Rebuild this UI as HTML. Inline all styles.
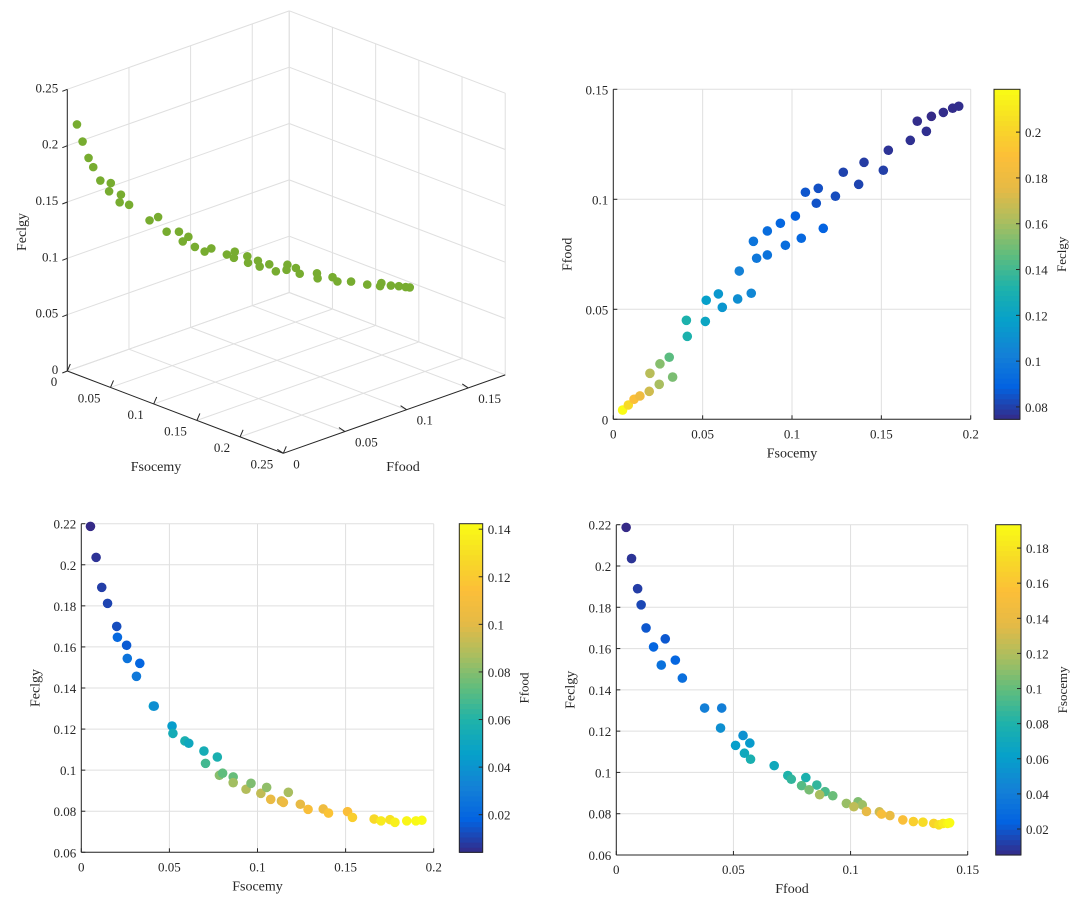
<!DOCTYPE html>
<html><head><meta charset="utf-8"><style>
html,body{margin:0;padding:0;background:#fff;}
svg{display:block;font-family:"Liberation Serif",serif;}
</style></head>
<body>
<svg id="fig" width="1082" height="907" viewBox="0 0 1082 907" xmlns="http://www.w3.org/2000/svg"></svg>
<script>
// Data: Fsocemy, Ffood, Feclgy for each solution
const socemy = [0.0052,0.0084,0.0116,0.0149,0.0201,0.0205,0.0257,0.0261,0.0313,0.0332,0.0409,0.0414,0.0515,0.0520,0.0588,0.0610,0.0696,0.0705,0.0772,0.0784,0.0802,0.0862,0.0862,0.0935,0.0963,0.1019,0.1052,0.1075,0.1136,0.1147,0.1175,0.1243,0.1287,0.1373,0.1403,0.1511,0.1539,0.1662,0.1701,0.1752,0.1780,0.1847,0.1899,0.1933];
const food   = [0.0042,0.0065,0.0091,0.0106,0.0127,0.0209,0.0159,0.0252,0.0282,0.0192,0.0450,0.0377,0.0445,0.0541,0.0570,0.0509,0.0547,0.0674,0.0573,0.0809,0.0732,0.0747,0.0856,0.0891,0.0791,0.0924,0.0823,0.1032,0.0982,0.1050,0.0868,0.1014,0.1123,0.1068,0.1168,0.1132,0.1223,0.1268,0.1355,0.1309,0.1377,0.1395,0.1414,0.1423];
const eclgy  = [0.2187,0.2036,0.1890,0.1812,0.1700,0.1647,0.1608,0.1544,0.1457,0.1520,0.1312,0.1312,0.1215,0.1179,0.1142,0.1131,0.1093,0.1033,0.1064,0.0975,0.0985,0.0967,0.0939,0.0907,0.0936,0.0887,0.0916,0.0858,0.0850,0.0843,0.0892,0.0834,0.0809,0.0811,0.0791,0.0798,0.0770,0.0762,0.0753,0.0759,0.0746,0.0753,0.0753,0.0756];
const ticksSocemy = [0,0.05,0.1,0.15,0.2];
const ticksFood2 = [0,0.05,0.1,0.15];
const ticksEclgy = [0.06,0.08,0.1,0.12,0.14,0.16,0.18,0.2,0.22];
const cbTicksEclgy = [0.08,0.1,0.12,0.14,0.16,0.18,0.2];
const cbTicksFood = [0.02,0.04,0.06,0.08,0.1,0.12,0.14];
const cbTicksSocemy = [0.02,0.04,0.06,0.08,0.1,0.12,0.14,0.16,0.18];
const ticks3dS = [0,0.05,0.1,0.15,0.2,0.25];
const ticks3dF = [0,0.05,0.1,0.15];
const ticks3dZ = [0,0.05,0.1,0.15,0.2,0.25];

const NS="http://www.w3.org/2000/svg";
const svg=document.getElementById('fig');
function mk(tag,attrs,parent){const e=document.createElementNS(NS,tag);for(const k in attrs)e.setAttribute(k,attrs[k]);(parent||svg).appendChild(e);return e;}
function fmt(v){return String(+v.toFixed(3)).replace(/^(-?)0\./,'$10.');}
const stops=[[53,42,135],[3,99,225],[20,129,214],[6,160,202],[30,178,170],[95,189,125],[170,190,95],[230,186,70],[252,191,56],[247,219,38],[249,251,21]];
function parula(t){t=Math.max(0,Math.min(1,t));const p=t*10,i=Math.min(9,Math.floor(p)),f=p-i;const a=stops[i],b=stops[i+1];return 'rgb('+a.map((v,k)=>Math.round(v+(b[k]-v)*f)).join(',')+')';}
const gridC='#dfdfdf';

function scatter2d(o){
  const g=mk('g',{});
  
  
  const X=v=>o.x0+(v-o.xmin)/(o.xmax-o.xmin)*(o.x1-o.x0);
  const Y=v=>o.y1-(v-o.ymin)/(o.ymax-o.ymin)*(o.y1-o.y0);
  o.xt.forEach(v=>{mk('line',{x1:X(v),x2:X(v),y1:o.y0,y2:o.y1,stroke:gridC,'stroke-width':1},g);});
  o.yt.forEach(v=>{mk('line',{x1:o.x0,x2:o.x1,y1:Y(v),y2:Y(v),stroke:gridC,'stroke-width':1},g);});
  mk('line',{x1:o.x0,x2:o.x1,y1:o.y1,y2:o.y1,stroke:'#262626'},g);
  mk('line',{x1:o.x0,x2:o.x0,y1:o.y0,y2:o.y1,stroke:'#262626'},g);
  o.xt.forEach(v=>{mk('line',{x1:X(v),x2:X(v),y1:o.y1,y2:o.y1-4,stroke:'#262626'},g);
    const t=mk('text',{x:X(v),y:o.y1+19,'text-anchor':'middle','font-size':13,fill:'#262626'},g);t.textContent=fmt(v);
    });
  o.yt.forEach(v=>{mk('line',{x1:o.x0,x2:o.x0+4,y1:Y(v),y2:Y(v),stroke:'#262626'},g);
    const t=mk('text',{x:o.x0-5,y:Y(v)+5,'text-anchor':'end','font-size':13,fill:'#262626'},g);t.textContent=fmt(v);
    });
  const xt=mk('text',{x:(o.x0+o.x1)/2,y:o.y1+38,'text-anchor':'middle','font-size':14,fill:'#262626'},g);xt.textContent=o.xl;
  
  const yt=mk('text',{x:0,y:0,'text-anchor':'middle','font-size':14,fill:'#262626',transform:`translate(${o.x0-42},${(o.y0+o.y1)/2}) rotate(-90)`},g);yt.textContent=o.yl;
  
  const cmin=Math.min(...o.c),cmax=Math.max(...o.c);
  o.xs.forEach((v,i)=>{const c=mk('circle',{cx:X(v),cy:Y(o.ys[i]),r:4.8,fill:parula((o.c[i]-cmin)/(cmax-cmin))},g);
    });
  const cb=mk('g',{},g);
  
  
  const n=64,h=(o.y1-o.y0)/n;
  for(let i=0;i<n;i++)mk('rect',{x:o.cbx,y:o.y1-(i+1)*h,width:o.cbw,height:h+0.6,fill:parula((i+0.5)/n)},cb);
  mk('rect',{x:o.cbx,y:o.y0,width:o.cbw,height:o.y1-o.y0,fill:'none',stroke:'#262626'},cb);
  const CY=v=>o.y1-(v-cmin)/(cmax-cmin)*(o.y1-o.y0);
  o.cbt.forEach(v=>{const y=CY(v);mk('line',{x1:o.cbx+o.cbw-4,x2:o.cbx+o.cbw,y1:y,y2:y,stroke:'#262626'},cb);
    const t=mk('text',{x:o.cbx+o.cbw+5,y:y+5,'font-size':13,fill:'#262626'},cb);t.textContent=fmt(v);
    });
  const ct=mk('text',{x:0,y:0,'text-anchor':'middle','font-size':13,fill:'#262626',transform:`translate(${o.cbx+o.cbw+46},${(o.y0+o.y1)/2}) rotate(-90)`},cb);ct.textContent=o.cl;
  
}

scatter2d({name:'food-vs-socemy-plot',x0:613.3,x1:970.7,y0:89.3,y1:419.3,xmin:0,xmax:0.2,ymin:0,ymax:0.15,
  xt:ticksSocemy,yt:[0,0.05,0.1,0.15],xs:socemy,ys:food,c:eclgy,xl:'Fsocemy',yl:'Ffood',
  cbx:994,cbw:26,cbt:cbTicksEclgy,cl:'Feclgy'});
scatter2d({name:'eclgy-vs-socemy-plot',x0:81.3,x1:433.7,y0:523.7,y1:852.3,xmin:0,xmax:0.2,ymin:0.06,ymax:0.22,
  xt:ticksSocemy,yt:ticksEclgy,xs:socemy,ys:eclgy,c:food,xl:'Fsocemy',yl:'Feclgy',
  cbx:459.3,cbw:23.4,cbt:cbTicksFood,cl:'Ffood'});
scatter2d({name:'eclgy-vs-food-plot',x0:616.3,x1:967.7,y0:524.7,y1:855,xmin:0,xmax:0.15,ymin:0.06,ymax:0.22,
  xt:ticksFood2,yt:ticksEclgy,xs:food,ys:eclgy,c:socemy,xl:'Ffood',yl:'Feclgy',
  cbx:995.7,cbw:25.3,cbt:cbTicksSocemy,cl:'Fsocemy'});

(function(){
  const g=mk('g',{});
  
  
  const O=[67.3,371],Vs=[864,329.3],Vf=[1233,-436],Vz=-1126.7;
  const SM=0.25,FM=0.18,ZM=0.25;
  const P=(s,f,z)=>[O[0]+s*Vs[0]+f*Vf[0],O[1]+s*Vs[1]+f*Vf[1]+z*Vz];
  const L=(a,b,st,w)=>mk('line',{x1:a[0],y1:a[1],x2:b[0],y2:b[1],stroke:st,'stroke-width':w||1},g);
  ticks3dS.forEach(s=>L(P(s,0,0),P(s,FM,0),gridC));
  ticks3dF.forEach(f=>L(P(0,f,0),P(SM,f,0),gridC));
  L(P(0,FM,0),P(SM,FM,0),gridC);
  ticks3dF.forEach(f=>L(P(0,f,0),P(0,f,ZM),gridC));
  L(P(0,FM,0),P(0,FM,ZM),gridC);
  ticks3dZ.forEach(z=>L(P(0,0,z),P(0,FM,z),gridC));
  ticks3dS.forEach(s=>L(P(s,FM,0),P(s,FM,ZM),gridC));
  ticks3dZ.forEach(z=>L(P(0,FM,z),P(SM,FM,z),gridC));
  L(P(0,0,0),P(0,0,ZM),'#262626');
  L(P(0,0,0),P(SM,0,0),'#262626');
  L(P(SM,0,0),P(SM,FM,0),'#262626');
  const txt=(x,y,s,anchor,name,size)=>{const t=mk('text',{x:x,y:y,'text-anchor':anchor,'font-size':size||13,fill:'#262626'},g);t.textContent=s;
    return t;};
  ticks3dZ.forEach(z=>{const p=P(0,0,z);L(p,[p[0]-5,p[1]+2],'#262626');txt(p[0]-9,p[1]+3,fmt(z),'end','z-tick-label');});
  ticks3dS.forEach(s=>{const p=P(s,0,0);L(p,[p[0]+3,p[1]-7],'#262626');txt(p[0]-10,p[1]+15,fmt(s),'end','x-tick-label');});
  ticks3dF.forEach(f=>{const p=P(SM,f,0);L(p,[p[0]-6,p[1]-4],'#262626');txt(p[0]+10,p[1]+15,fmt(f),'start','y-tick-label');});
  txt(156,471,'Fsocemy','middle','x-axis-title',14);
  txt(403,471,'Ffood','middle','y-axis-title',14);
  const zt=mk('text',{x:0,y:0,'text-anchor':'middle','font-size':14,fill:'#262626',transform:'translate(26,232) rotate(-90)'},g);zt.textContent='Feclgy';
  
  socemy.forEach((s,i)=>{const p=P(s,food[i],eclgy[i]);const c=mk('circle',{cx:p[0],cy:p[1],r:4.3,fill:'#77ac30'},g);
    });
})();
</script>
</body></html>
